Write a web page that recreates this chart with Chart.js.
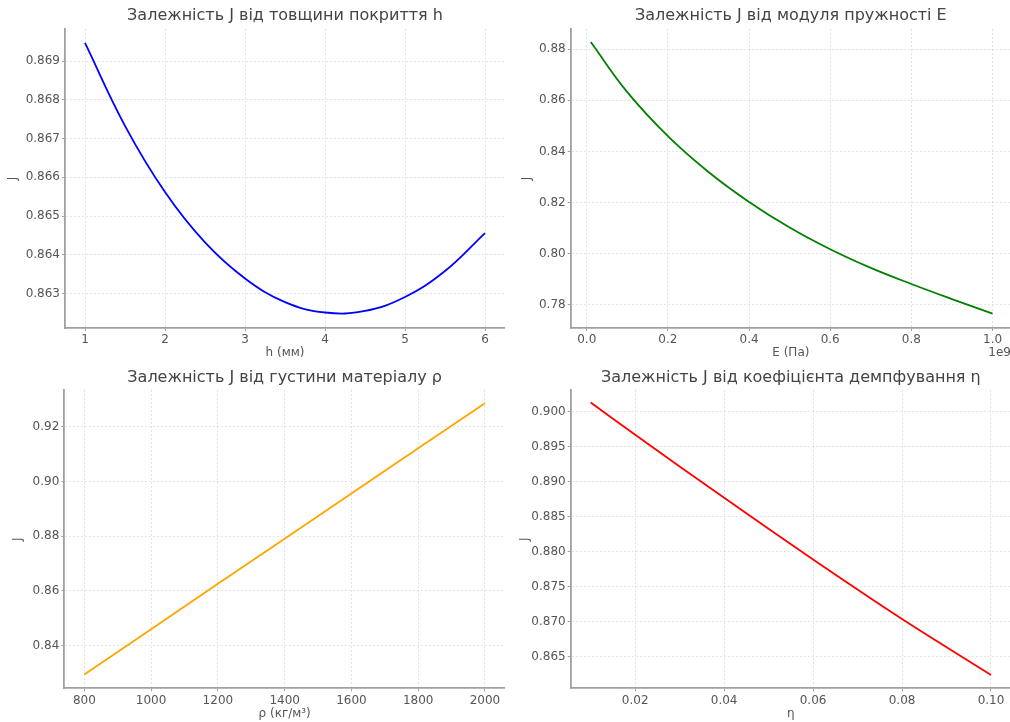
<!DOCTYPE html>
<html>
<head>
<meta charset="utf-8">
<script src="https://cdn.jsdelivr.net/npm/chart.js@4.4.1/dist/chart.umd.min.js"></script>
<style>
  html, body { margin: 0; padding: 0; background: #fff; overflow: hidden; width: 1010px; height: 722px; }
  canvas { position: absolute; }
</style>
</head>
<body>
<canvas id="pH" width="505" height="361" style="left:0px;top:0px"></canvas>
<canvas id="pE" width="507" height="361" style="left:505px;top:0px"></canvas>
<canvas id="pRho" width="505" height="361" style="left:0px;top:361px"></canvas>
<canvas id="pEta" width="507" height="361" style="left:505px;top:361px"></canvas>
<script>
// J versus coating thickness h (mm)
const hValues = [1, 1.5, 2, 2.5, 3, 3.5, 4, 4.5, 5, 5.5, 6];
const jByH    = [0.86947, 0.86733, 0.86562, 0.86432, 0.86339, 0.86278, 0.86251, 0.86255, 0.86291, 0.86358, 0.86456];
const hTicks  = [1, 2, 3, 4, 5, 6];
const jHTicks = [0.863, 0.864, 0.865, 0.866, 0.867, 0.868, 0.869];

// J versus elastic modulus E (Pa)
const eValues = [1e7, 1e8, 2e8, 3e8, 4e8, 5e8, 6e8, 7e8, 8e8, 9e8, 1e9];
const jByE    = [0.8828, 0.8632, 0.8460, 0.8320, 0.8203, 0.8103, 0.8018, 0.7945, 0.7882, 0.7823, 0.7766];
const eTicks  = [0, 2e8, 4e8, 6e8, 8e8, 1e9];
const jETicks = [0.78, 0.80, 0.82, 0.84, 0.86, 0.88];

// J versus material density rho (kg/m³)
const rhoValues = [800, 1000, 1200, 1400, 1600, 1800, 2000];
const jByRho    = [0.8295, 0.8460, 0.8626, 0.8791, 0.8956, 0.9121, 0.9286];
const rhoTicks  = [800, 1000, 1200, 1400, 1600, 1800, 2000];
const jRhoTicks = [0.84, 0.86, 0.88, 0.90, 0.92];

// J versus damping coefficient eta
const etaValues = [0.01, 0.02, 0.04, 0.06, 0.08, 0.10];
const jByEta    = [0.9013, 0.8967, 0.8877, 0.8789, 0.8704, 0.8624];
const etaTicks  = [0.02, 0.04, 0.06, 0.08, 0.10];
const jEtaTicks = [0.865, 0.870, 0.875, 0.880, 0.885, 0.890, 0.895, 0.900];

Chart.defaults.font.family = "'DejaVu Sans', sans-serif";
Chart.defaults.animation = false;

const TEXT = '#555555';
const SPINE = '#a0a0a0';
const GRID = 'rgba(0,0,0,0.14)';

// Subplot heading, centred over the plotting area
const headingPlugin = {
  id: 'heading',
  afterDraw(chart, args, opts) {
    const { ctx, chartArea } = chart;
    ctx.save();
    ctx.font = "16px 'DejaVu Sans', sans-serif";
    ctx.fillStyle = '#444444';
    ctx.textAlign = 'center';
    ctx.textBaseline = 'middle';
    ctx.fillText(opts.text, (chartArea.left + chartArea.right) / 2, opts.y);
    if (opts.offsetText) {
      ctx.font = "12px 'DejaVu Sans', sans-serif";
      ctx.fillStyle = TEXT;
      ctx.textAlign = 'right';
      ctx.fillText(opts.offsetText, chartArea.right, opts.offsetY);
    }
    ctx.restore();
  }
};

function fmt(d, scaleBy) {
  return v => (v / (scaleBy || 1)).toFixed(d);
}

function panel(id, cfg) {
  const canvas = document.getElementById(id);
  const W = canvas.width, H = canvas.height;
  const a = cfg.area;
  const points = cfg.x.map((x, i) => ({ x, y: cfg.y[i] }));
  const axisCommon = {
    type: 'linear',
    grid: { color: GRID, lineWidth: 0.8, drawTicks: true,
            tickLength: 3, tickColor: SPINE, tickBorderDash: [], tickWidth: 1 },
    border: { display: true, color: SPINE, width: 1.8, dash: [2, 2] }
  };
  new Chart(canvas, {
    type: 'line',
    data: { datasets: [{
      data: points,
      borderColor: cfg.color,
      borderWidth: 1.8,
      pointRadius: 0,
      tension: cfg.tension,
      fill: false
    }] },
    options: {
      responsive: false,
      devicePixelRatio: 1,
      layout: { padding: {
        left: a.left - cfg.yBoxW,
        top: a.top,
        right: W - a.right,
        bottom: H - a.bottom - cfg.xBoxH
      } },
      plugins: {
        legend: { display: false },
        tooltip: { enabled: false },
        heading: { text: cfg.title, y: cfg.titleY, offsetText: cfg.offsetText, offsetY: cfg.offsetY }
      },
      scales: {
        x: Object.assign({}, axisCommon, {
          min: cfg.xRange[0], max: cfg.xRange[1],
          afterBuildTicks: s => { s.ticks = cfg.xTicks.map(v => ({ value: v })); },
          afterFit: s => { s.height = cfg.xBoxH; },
          ticks: { color: TEXT, font: { size: 12 }, padding: 2, maxRotation: 0, autoSkip: false,
                   callback: cfg.xFmt },
          title: { display: true, text: cfg.xLabel, color: TEXT, font: { size: 12 }, padding: 0 }
        }),
        y: Object.assign({}, axisCommon, {
          min: cfg.yRange[0], max: cfg.yRange[1],
          afterBuildTicks: s => { s.ticks = cfg.yTicks.map(v => ({ value: v })); },
          afterFit: s => { s.width = cfg.yBoxW; },
          ticks: { color: TEXT, font: { size: 12 }, padding: 2, autoSkip: false,
                   callback: cfg.yFmt },
          title: { display: true, text: 'J', color: TEXT, font: { size: 12 }, padding: 0 }
        })
      }
    },
    plugins: [headingPlugin]
  });
}

panel('pH', {
  title: 'Залежність J від товщини покриття h', titleY: 16,
  x: hValues, y: jByH, color: 'blue', tension: 0.4,
  xTicks: hTicks, yTicks: jHTicks, xFmt: fmt(0), yFmt: fmt(3),
  xRange: [0.75, 6.25], yRange: [0.86211, 0.86983],
  xLabel: 'h (мм)',
  area: { left: 65, top: 29, right: 505, bottom: 328 }, yBoxW: 59.2, xBoxH: 31.9
});

panel('pE', {
  title: 'Залежність J від модуля пружності E', titleY: 16,
  x: eValues, y: jByE, color: 'green', tension: 0.4,
  xTicks: eTicks, yTicks: jETicks, xFmt: fmt(1, 1e9), yFmt: fmt(2),
  xRange: [-0.0395e9, 1.0455e9], yRange: [0.7710, 0.8879],
  xLabel: 'E (Па)', offsetText: '1e9', offsetY: 352.7,
  area: { left: 65.7, top: 29, right: 506, bottom: 328 }, yBoxW: 51.2, xBoxH: 31.9
});

panel('pRho', {
  title: 'Залежність J від густини матеріалу ρ', titleY: 17,
  x: rhoValues, y: jByRho, color: 'orange', tension: 0,
  xTicks: rhoTicks, yTicks: jRhoTicks, xFmt: fmt(0), yFmt: fmt(2),
  xRange: [740, 2060], yRange: [0.82444, 0.93341],
  xLabel: 'ρ (кг/м³)',
  area: { left: 64.3, top: 29, right: 505, bottom: 327.3 }, yBoxW: 53.5, xBoxH: 32.9
});

panel('pEta', {
  title: 'Залежність J від коефіцієнта демпфування η', titleY: 17,
  x: etaValues, y: jByEta, color: 'red', tension: 0.3,
  xTicks: etaTicks, yTicks: jEtaTicks, xFmt: fmt(2), yFmt: fmt(3),
  xRange: [0.0055, 0.1045], yRange: [0.86049, 0.9031],
  xLabel: 'η',
  area: { left: 65.7, top: 29, right: 506, bottom: 327.3 }, yBoxW: 52.9, xBoxH: 32.9
});
</script>
</body>
</html>
